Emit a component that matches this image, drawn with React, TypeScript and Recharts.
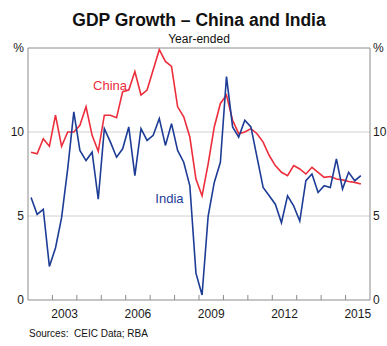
import { Line, LineChart, ReferenceDot, ReferenceLine, XAxis, YAxis } from "recharts";

// quarterly, 2002 Q1 to 2015 Q3, year-ended % change
const china = [
  8.8, 8.7, 9.6, 9.15, 11.0, 9.15, 10.0, 10.0, 10.4, 11.5, 9.8, 8.85, 11.0, 11.0,
  10.85, 12.4, 12.5, 13.6, 12.2, 12.5, 13.7, 14.9, 14.2, 13.9, 11.5, 10.9, 9.7, 7.2,
  6.2, 8.1, 10.3, 11.7, 12.2, 10.7, 9.9, 10.0, 10.2, 9.9, 9.4, 8.6, 8.0, 7.6, 7.4,
  8.0, 7.8, 7.5, 7.9, 7.6, 7.3, 7.35, 7.2, 7.15, 7.05, 7.0, 6.9,
];
const india = [
  6.1, 5.1, 5.4, 2.0, 3.1, 4.9, 7.8, 11.2, 8.9, 8.3, 8.8, 6.0, 10.2, 9.4, 8.5, 9.0,
  10.3, 7.4, 10.2, 9.5, 9.8, 10.8, 9.2, 10.5, 8.9, 8.2, 6.8, 1.6, 0.3, 5.0, 7.0, 8.2,
  13.3, 10.3, 9.7, 10.7, 10.3, 8.5, 6.7, 6.2, 5.7, 4.6, 6.2, 5.6, 4.7, 7.1, 7.5, 6.4,
  6.8, 6.7, 8.4, 6.6, 7.6, 7.1, 7.4,
];
const yearTicks = [
  2003, 2004, 2005, 2006, 2007, 2008, 2009, 2010, 2011, 2012, 2013, 2014, 2015,
];
const yearLabels = [2003, 2006, 2009, 2012, 2015];
const yTicks = [0, 5, 10, 15];

const data = china.map((c, i) => ({ t: 2002 + (i + 0.5) / 4, china: c, india: india[i] }));

const RED = "#ec2d3b";
const BLUE = "#1c3c96";
const AXIS = "#8c8c8c";
const GRID = "#d0d0d0";
const FONT = '"Liberation Sans", Arial, sans-serif';
const tickStyle = { fontSize: 12, fill: "#1a1a1a", fontFamily: FONT };

const pct = (v: number) => (v === 15 ? "%" : String(v));

export default function App() {
  return (
    <div
      style={{
        position: "absolute",
        left: 0,
        top: 0,
        width: 387,
        height: 346,
        background: "#fff",
        fontFamily: FONT,
        color: "#111",
      }}
    >
      <div
        style={{
          position: "absolute",
          top: 10.5,
          left: 28,
          width: 342,
          textAlign: "center",
          fontSize: 17.5,
          fontWeight: "bold",
          lineHeight: "18px",
          whiteSpace: "nowrap",
        }}
      >
        GDP Growth – China and India
      </div>
      <div
        style={{
          position: "absolute",
          top: 33,
          left: 28,
          width: 342,
          textAlign: "center",
          fontSize: 12,
          lineHeight: "12px",
        }}
      >
        Year-ended
      </div>
      <LineChart width={387} height={346} data={data} margin={{ top: 48, right: 0, bottom: 0, left: 0 }}>
        <XAxis
          xAxisId="main"
          type="number"
          dataKey="t"
          domain={[2002, 2016]}
          ticks={yearLabels.map((y) => y + 0.5)}
          interval={0}
          height={46}
          tickSize={0}
          tickMargin={9}
          axisLine={false}
          tickLine={false}
          tick={tickStyle}
          tickFormatter={(v: number) => String(Math.floor(v))}
        />
        <YAxis
          yAxisId="left"
          domain={[0, 15]}
          ticks={yTicks}
          interval={0}
          width={28}
          tickSize={0}
          tickMargin={4}
          tickLine={false}
          axisLine={false}
          tick={tickStyle}
          tickFormatter={pct}
        />
        <YAxis
          yAxisId="right"
          orientation="right"
          domain={[0, 15]}
          ticks={yTicks}
          interval={0}
          width={17}
          tickSize={0}
          tickMargin={3}
          tickLine={false}
          axisLine={false}
          tick={tickStyle}
          tickFormatter={pct}
        />
        <ReferenceLine xAxisId="main" yAxisId="left" y={5} stroke={GRID} />
        <ReferenceLine xAxisId="main" yAxisId="left" y={10} stroke={GRID} />
        {yearTicks.map((yr) => (
          <ReferenceLine
            key={yr}
            xAxisId="main"
            yAxisId="left"
            segment={[
              { x: yr, y: 0 },
              { x: yr, y: 0.3 },
            ]}
            stroke={AXIS}
          />
        ))}
        <ReferenceLine xAxisId="main" yAxisId="left" y={15} stroke={AXIS} ifOverflow="visible" />
        <ReferenceLine xAxisId="main" yAxisId="left" y={0} stroke={AXIS} ifOverflow="visible" />
        <ReferenceLine xAxisId="main" yAxisId="left" x={2002} stroke={AXIS} ifOverflow="visible" />
        <ReferenceLine xAxisId="main" yAxisId="left" x={2016} stroke={AXIS} ifOverflow="visible" />
        <Line
          xAxisId="main"
          yAxisId="left"
          dataKey="china"
          stroke={RED}
          strokeWidth={1.6}
          dot={false}
          isAnimationActive={false}
        />
        <Line
          xAxisId="main"
          yAxisId="right"
          dataKey="india"
          stroke={BLUE}
          strokeWidth={1.6}
          dot={false}
          isAnimationActive={false}
        />
        <ReferenceDot
          xAxisId="main"
          yAxisId="left"
          x={2005.36}
          y={12.8}
          r={1}
          fill="none"
          stroke="none"
          label={{ value: "China", position: "center", fill: RED, fontSize: 13, fontFamily: FONT }}
        />
        <ReferenceDot
          xAxisId="main"
          yAxisId="left"
          x={2007.79}
          y={6.04}
          r={1}
          fill="none"
          stroke="none"
          label={{ value: "India", position: "center", fill: BLUE, fontSize: 13, fontFamily: FONT }}
        />
      </LineChart>
      <div
        style={{
          position: "absolute",
          top: 328.5,
          left: 29,
          fontSize: 10,
          lineHeight: "10px",
          whiteSpace: "pre",
        }}
      >
        {"Sources:  CEIC Data; RBA"}
      </div>
    </div>
  );
}
